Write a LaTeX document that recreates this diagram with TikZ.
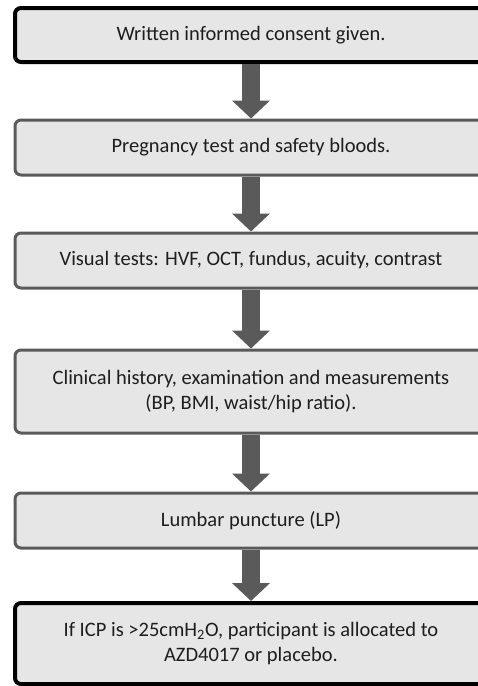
\documentclass[tikz,border=0pt]{standalone}
\usepackage{fontspec}
\setmainfont{Carlito}
\usetikzlibrary{arrows.meta}
\definecolor{boxfill}{HTML}{E6E6E6}
\definecolor{darkline}{HTML}{5A5A5A}
\definecolor{txt}{HTML}{1E1E1E}
\begin{document}
\begin{tikzpicture}[x=1pt,y=-1pt,
  stepbox/.style={draw=darkline, line width=3pt, fill=boxfill, rounded corners=6pt,
    minimum width=472pt, inner sep=0pt, align=center, text=txt,
    font=\fontsize{20.5}{25}\selectfont},
  keybox/.style={stepbox, draw=black, line width=4pt},
  flow/.style={draw=darkline, line width=18pt, -{Triangle[width=37pt,length=18pt]}}]
\useasboundingbox (0,0) rectangle (478,686);
\clip (0,0) rectangle (478,686);
\node[keybox, minimum height=54pt] (b1) at (251,35) {Written informed consent given.};
\node[stepbox, minimum height=55pt] (b2) at (251,147.5) {Pregnancy test and safety bloods.};
\node[stepbox, minimum height=55pt] (b3) at (251,260.5) {Visual tests: HVF, OCT, fundus, acuity, contrast};
\node[stepbox, minimum height=83pt] (b4) at (251,391.5) {Clinical history, examination and measurements\\(BP, BMI, waist/hip ratio).};
\node[stepbox, minimum height=55pt] (b5) at (251,520.5) {Lumbar puncture (LP)};
\node[keybox, minimum height=81pt] (b6) at (251,643.5) {If ICP is >25cmH\textsubscript{2}O, participant is allocated to\\AZD4017 or placebo.};
\draw[flow] (b1.south) -- (b2.north);
\draw[flow] (b2.south) -- (b3.north);
\draw[flow] (b3.south) -- (b4.north);
\draw[flow] (b4.south) -- (b5.north);
\draw[flow] (b5.south) -- (b6.north);
\end{tikzpicture}
\end{document}
